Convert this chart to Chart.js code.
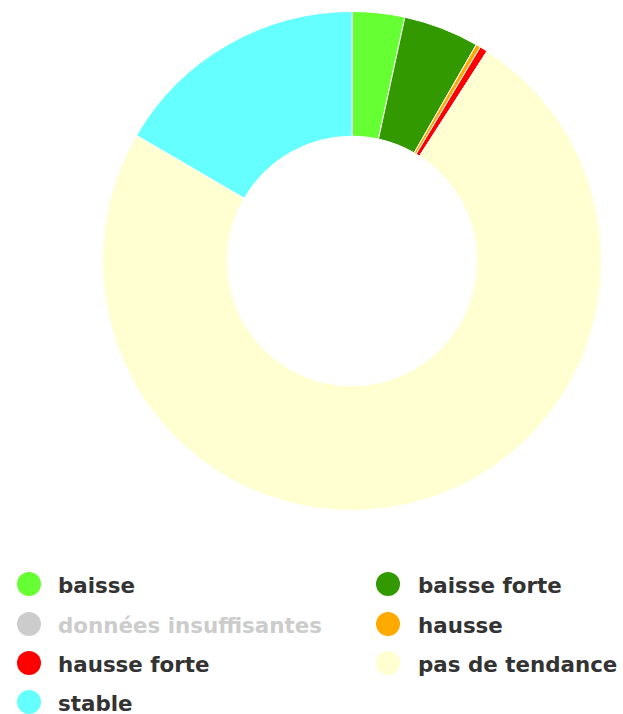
<!DOCTYPE html>
<html>
<head>
<meta charset="utf-8">
<script src="https://cdn.jsdelivr.net/npm/chart.js@4/dist/chart.umd.min.js"></script>
<style>
  html, body { margin: 0; padding: 0; background: #fff; }
  #wrap { position: relative; width: 623px; height: 714px; overflow: hidden; }
  #chartBox { position: absolute; left: 0; top: 0; width: 623px; height: 522px; }
  .item { position: absolute; height: 30px; display: flex; align-items: center;
          font-family: "DejaVu Sans", sans-serif; font-weight: bold; font-size: 21.4px; color: #333; white-space: nowrap; }
  .dot { position: absolute; width: 24px; height: 24px; border-radius: 50%; }
</style>
</head>
<body>
<div id="wrap">
  <div id="chartBox"><canvas id="c"></canvas></div>
  <div id="legend"></div>
</div>
<script>
const categories = ["baisse", "baisse forte", "données insuffisantes", "hausse", "hausse forte", "pas de tendance", "stable"];
const values = [34, 49, 0, 3, 5, 743, 166];
const colors = ["#66ff33", "#339900", "#cccccc", "#ffaa00", "#ff0000", "#ffffd2", "#66ffff"];
const hiddenItems = [false, false, true, false, false, false, false];

const chart = new Chart(document.getElementById('c'), {
  type: 'doughnut',
  data: {
    labels: categories,
    datasets: [{
      data: values,
      backgroundColor: colors,
      borderColor: '#ffffff',
      borderWidth: 1
    }]
  },
  options: {
    responsive: true,
    maintainAspectRatio: false,
    animation: false,
    events: [],
    cutout: '50%',
    layout: { padding: { left: 81, right: 0, top: 11, bottom: 11 } },
    plugins: { legend: { display: false }, tooltip: { enabled: false } }
  }
});

// HTML legend in two columns built from the chart's labels and colours
const legend = document.getElementById('legend');
const colX = [29, 388];
const textX = [58, 418];
const rowY = [584, 624, 663, 702];
chart.data.labels.forEach((lab, i) => {
  const col = i % 2, row = Math.floor(i / 2);
  const dot = document.createElement('div');
  dot.className = 'dot';
  dot.style.left = (colX[col] - 12) + 'px';
  dot.style.top = (rowY[row] - 12) + 'px';
  dot.style.background = hiddenItems[i] ? '#cccccc' : chart.data.datasets[0].backgroundColor[i];
  legend.appendChild(dot);
  const t = document.createElement('div');
  t.className = 'item';
  t.style.left = textX[col] + 'px';
  t.style.top = (rowY[row] - 14) + 'px';
  t.textContent = lab;
  if (hiddenItems[i]) t.style.color = '#cccccc';
  legend.appendChild(t);
});
</script>
</body>
</html>
